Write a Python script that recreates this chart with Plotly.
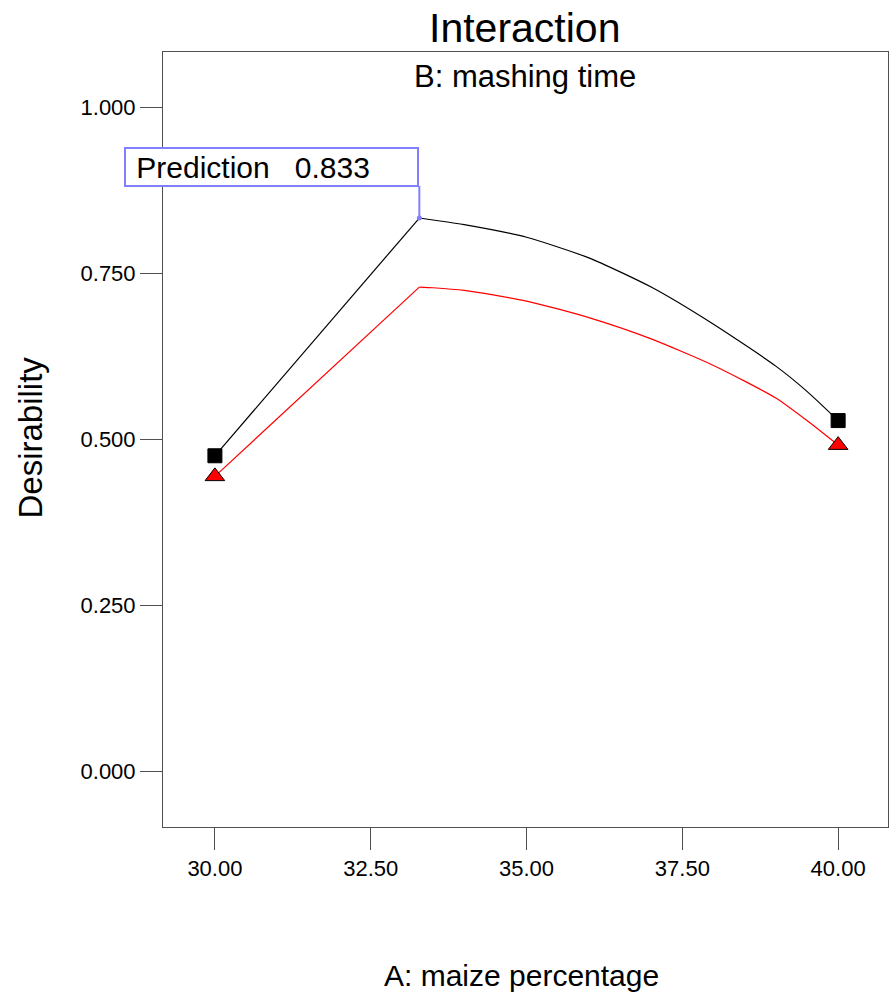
import plotly.graph_objects as go

# A: maize percentage (factor levels along the x axis)
maize_pct = [30.00, 33.28, 33.50, 34.00, 35.00, 36.00, 37.00, 38.00, 39.00, 39.50, 40.00]

# Desirability for the two levels of B: mashing time
desir_b_high = [0.475, 0.833, 0.830, 0.823, 0.804, 0.773, 0.729, 0.673, 0.610, 0.572, 0.528]
desir_b_low = [0.444, 0.729, 0.728, 0.724, 0.708, 0.683, 0.651, 0.611, 0.562, 0.528, 0.491]

# End points carrying the design-point markers
end_x = [30.00, 40.00]
end_high = [0.475, 0.528]
end_low = [0.444, 0.491]

# Prediction flag
pred_x = 33.28
pred_value = 0.833

x_ticks = [30.00, 32.50, 35.00, 37.50, 40.00]
y_ticks = [0.000, 0.250, 0.500, 0.750, 1.000]

FONT = "Liberation Sans, Arial, sans-serif"
AXIS_GREY = "#505050"
FLAG_BLUE = "#8080ff"

fig = go.Figure()

# Each response: straight rise up to the optimum, smooth fall after it
for ys, colour in [(desir_b_high, "black"), (desir_b_low, "#ff0000")]:
    fig.add_trace(go.Scatter(x=maize_pct[:2], y=ys[:2], mode="lines",
                             line=dict(color=colour, width=1.2), hoverinfo="skip"))
    fig.add_trace(go.Scatter(x=maize_pct[1:], y=ys[1:], mode="lines",
                             line=dict(color=colour, width=1.2, shape="spline",
                                       smoothing=0.6),
                             hoverinfo="skip"))

fig.add_trace(go.Scatter(x=end_x, y=end_high, mode="markers",
                         marker=dict(symbol="square", size=14, color="black",
                                     line=dict(color="black", width=1))))
fig.add_trace(go.Scatter(x=end_x, y=end_low, mode="markers",
                         marker=dict(symbol="triangle-up", size=17, color="#ff0000",
                                     line=dict(color="black", width=1))))

# Prediction marker, leader line and label box
fig.add_trace(go.Scatter(x=[pred_x], y=[pred_value], mode="markers",
                         marker=dict(size=5, color=FLAG_BLUE)))
fig.add_shape(type="line", xref="x", yref="y", ysizemode="pixel",
              x0=pred_x, x1=pred_x, yanchor=pred_value, y0=0, y1=32,
              line=dict(color=FLAG_BLUE, width=2))
fig.add_annotation(x=pred_x, y=pred_value, xref="x", yref="y",
                   xanchor="right", yanchor="bottom", yshift=31,
                   text="\u00a0Prediction" + "\u00a0" * 3 + f"{pred_value:.3f}",
                   showarrow=False, align="left", width=287, height=32,
                   borderwidth=2, bordercolor=FLAG_BLUE, borderpad=2,
                   bgcolor="white",
                   font=dict(family=FONT, size=30, color="black"))

# Titles
fig.add_annotation(text="Interaction", xref="paper", yref="paper", x=0.499, y=1.031,
                   xanchor="center", yanchor="middle", showarrow=False,
                   font=dict(family=FONT, size=41, color="black"))
fig.add_annotation(text="B: mashing time", xref="paper", yref="paper", x=0.499, y=0.969,
                   xanchor="center", yanchor="middle", showarrow=False,
                   font=dict(family=FONT, size=31, color="black"))
fig.add_annotation(text="A: maize percentage", xref="paper", yref="paper", x=0.495, y=-0.191,
                   xanchor="center", yanchor="middle", showarrow=False,
                   font=dict(family=FONT, size=30, color="black"))
fig.add_annotation(text="Desirability", xref="paper", yref="paper", x=-0.183, y=0.503,
                   xanchor="center", yanchor="middle", showarrow=False, textangle=-90,
                   font=dict(family=FONT, size=33, color="black"))

fig.update_layout(
    width=893, height=992,
    margin=dict(l=163, r=5, t=52, b=165),
    paper_bgcolor="white", plot_bgcolor="white",
    showlegend=False,
    font=dict(family=FONT, size=22, color="black"),
    xaxis=dict(range=[29.167, 40.80], tickvals=x_ticks, tickformat=".2f",
               showgrid=False, zeroline=False,
               showline=True, linecolor=AXIS_GREY, linewidth=1, mirror=True,
               ticks="outside", ticklen=22, tickcolor=AXIS_GREY, tickwidth=1,
               tickfont=dict(family=FONT, size=22, color="black")),
    yaxis=dict(range=[-0.084, 1.083], tickvals=y_ticks, tickformat=".3f",
               showgrid=False, zeroline=False,
               showline=True, linecolor=AXIS_GREY, linewidth=1, mirror=True,
               ticks="outside", ticklen=22, tickcolor=AXIS_GREY, tickwidth=1,
               tickfont=dict(family=FONT, size=22, color="black")),
)

fig.write_html("out.html")
